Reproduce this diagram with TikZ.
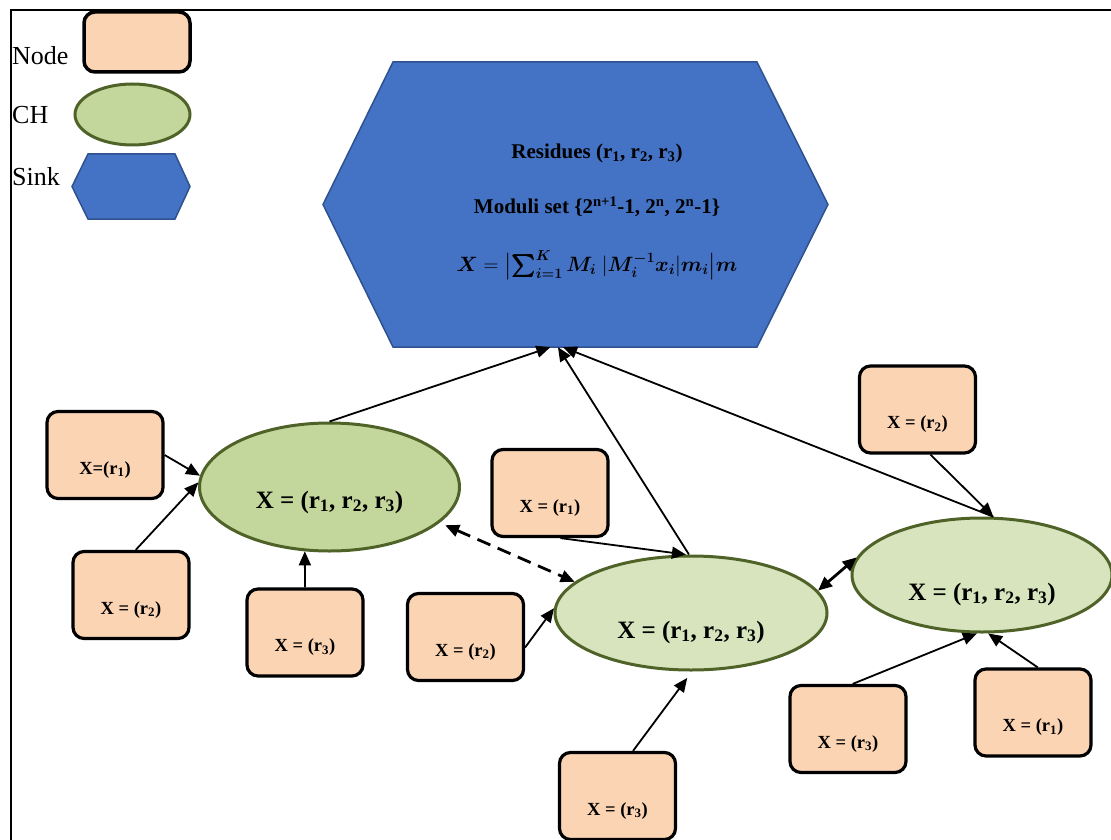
\documentclass[tikz,border=0pt]{standalone}
\usepackage{amsmath, amssymb, bm}
\usepackage{fontspec}
\setmainfont{Liberation Serif}
\usepackage{tikz}
\usetikzlibrary{shapes.geometric, arrows.meta}

\definecolor{peach}{HTML}{FBD4B4}
\definecolor{chdark}{HTML}{C3D69B}
\definecolor{chlight}{HTML}{D7E4BD}
\definecolor{chedge}{HTML}{4F6228}
\definecolor{sinkblue}{HTML}{4472C4}
\definecolor{sinkedge}{HTML}{2F528F}

\tikzset{
  sensor/.style={draw=black, line width=3.2pt, fill=peach, rounded corners=11pt,
    minimum width=116pt, minimum height=87pt, text height=38pt, text depth=0pt,
    font=\fontsize{18.5}{22}\selectfont\bfseries},
  chnode/.style={ellipse, draw=chedge, line width=3pt, fill=chlight, inner sep=0pt,
    text depth=0pt, font=\fontsize{25}{30}\selectfont\bfseries},
  sinkline/.style={font=\fontsize{21}{25}\selectfont\bfseries},
  link/.style={-{Triangle[length=14pt,width=12pt]}, line width=1.8pt},
  dual/.style={{Triangle[length=14pt,width=12pt]}-{Triangle[length=14pt,width=12pt]}, line width=2.8pt},
  keytext/.style={anchor=west, inner sep=0pt, font=\fontsize{26}{30}\selectfont}
}

\begin{document}
\begin{tikzpicture}[x=1pt, y=-1pt]
\useasboundingbox (0,0) rectangle (1111,840);
\draw[line width=1.2pt] (11,840) -- (11,10) -- (1111,10);

\node[keytext] (lnode) at (12,56) {Node};
\node[sensor, minimum width=106pt, minimum height=60pt, line width=3.5pt] (knode) at (137,42) {};
\node[keytext] (lch) at (12,115) {CH};
\node[chnode, fill=chdark, minimum width=115pt, minimum height=61pt] (kch) at (132.5,114.5) {};
\node[keytext] (lsink) at (12,177) {Sink};
\draw[fill=sinkblue, draw=sinkedge, line width=1.5pt]
(88,154) -- (175,154) -- (190,186.5) -- (175,219) -- (88,219) -- (72,186.5) -- cycle;

\draw[fill=sinkblue, draw=sinkedge, line width=1.5pt]
(393,62) -- (757,62) -- (828,204.5) -- (757,347) -- (393,347) -- (323,204.5) -- cycle;
\node[minimum width=505pt, minimum height=285pt] (sink) at (575.5,204.5) {};
\node[sinkline] (res) at (597,153) {Residues (r\textsubscript{1}, r\textsubscript{2}, r\textsubscript{3})};
\node[sinkline] (mods) at (597,207) {Moduli set \{2\textsuperscript{n+1}-1, 2\textsuperscript{n}, 2\textsuperscript{n}-1\}};
\node[sinkline, font=\fontsize{22}{26}\selectfont] (crt) at (597,265)
{$\bm{X} = \bigl\vert\bm{\sum_{i=1}^{K} M_i}\ \vert\bm{M_i^{-1}x_i}\vert\bm{m_i}\bigr\vert\bm{m}$};

\node[chnode, fill=chdark, minimum width=260pt, minimum height=128pt, text height=42pt] (ch1) at (329.5,487)
{X = (r\textsubscript{1}, r\textsubscript{2}, r\textsubscript{3})};
\node[chnode, minimum width=272pt, minimum height=114pt, text height=50pt] (ch2) at (691,613)
{X = (r\textsubscript{1}, r\textsubscript{2}, r\textsubscript{3})};
\node[chnode, minimum width=260pt, minimum height=114pt, text height=50pt] (ch3) at (982,575)
{X = (r\textsubscript{1}, r\textsubscript{2}, r\textsubscript{3})};

\node[sensor] (a1) at (105,455) {X=(r\textsubscript{1})};
\node[sensor] (a2) at (131,595) {X = (r\textsubscript{2})};
\node[sensor] (a3) at (305,632.5) {X = (r\textsubscript{3})};
\node[sensor] (b1) at (550,493) {X = (r\textsubscript{1})};
\node[sensor] (b2) at (465.5,637) {X = (r\textsubscript{2})};
\node[sensor] (b3) at (617.5,796) {X = (r\textsubscript{3})};
\node[sensor] (c2) at (917.5,409.5) {X = (r\textsubscript{2})};
\node[sensor] (c3) at (848,729) {X = (r\textsubscript{3})};
\node[sensor] (c1) at (1033,712.5) {X = (r\textsubscript{1})};

\draw[link] (ch1.north) -- (sink.-100);
\draw[link] (ch2.92) -- (sink.-97);
\draw[link] (ch3.79) -- (sink.-95);
\draw[link] (a1.east) -- (ch1.175);
\draw[link] (a2.84) -- (ch1.178);
\draw[link] (a3.north) -- (ch1.-111);
\draw[dual, dash pattern=on 14pt off 8pt, shorten <=6pt] (ch1.-18) -- (ch2.165);
\draw[link] (b1.-77) -- (ch2.95);
\draw[link] (b2.-10) -- (ch2.178);
\draw[link, shorten >=8pt] (b3.71) -- (ch2.-89);
\draw[dual] (ch2.10) -- (ch3.172);
\draw[link] (c2.-74) -- (ch3.79);
\draw[link] (c3.84) -- (ch3.-95);
\draw[link] (c1.84) -- (ch3.-84);
\end{tikzpicture}
\end{document}
